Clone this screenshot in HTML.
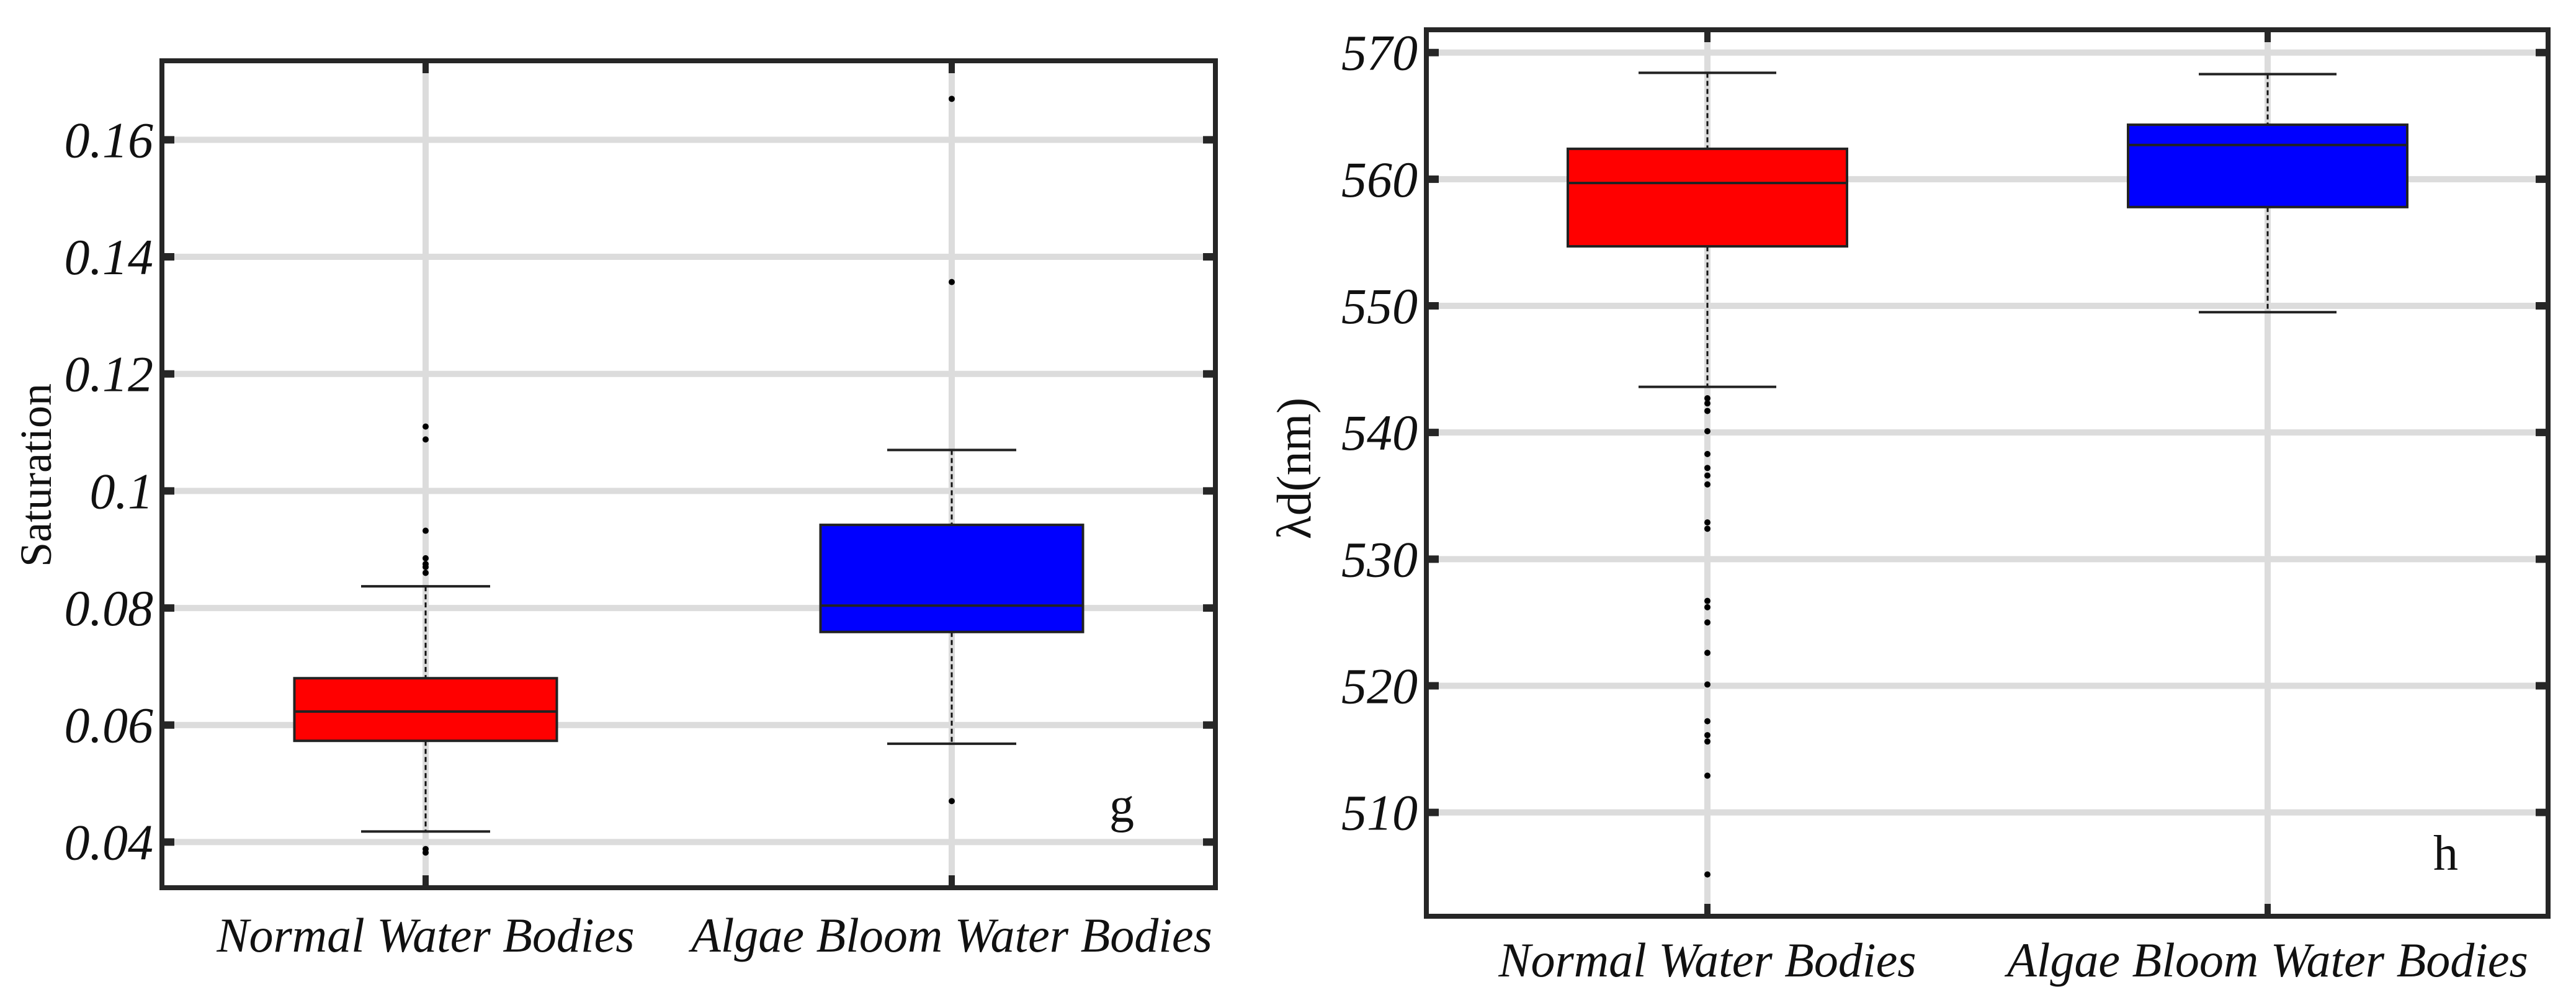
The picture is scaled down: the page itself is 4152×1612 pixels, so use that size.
<!DOCTYPE html>
<html><head><meta charset="utf-8"><style>
html,body{margin:0;padding:0;background:#fff;}
svg{display:block;}
text{font-family:"Liberation Serif","DejaVu Serif",serif;fill:#111;}
</style></head><body>
<svg id="chart" width="4152" height="1612" viewBox="0 0 4152 1612" xmlns="http://www.w3.org/2000/svg"></svg>
<script>
const categories = ["Normal Water Bodies", "Algae Bloom Water Bodies"];
// panel g: Saturation
const satTicks = [0.04, 0.06, 0.08, 0.1, 0.12, 0.14, 0.16];
const satTickLabels = ["0.04", "0.06", "0.08", "0.1", "0.12", "0.14", "0.16"];
const satQ1 = [0.0573, 0.0759];
const satMedian = [0.0623, 0.0804];
const satQ3 = [0.0680, 0.0942];
const satLow = [0.0418, 0.0568];
const satHigh = [0.0837, 0.1070];
const satOutliers0 = [0.111, 0.1088, 0.0932, 0.0885, 0.0875, 0.087, 0.086, 0.0388, 0.0382];
const satOutliers1 = [0.167, 0.1357, 0.047];
// panel h: dominant wavelength
const lamTicks = [510, 520, 530, 540, 550, 560, 570];
const lamTickLabels = ["510", "520", "530", "540", "550", "560", "570"];
const lamQ1 = [554.7, 557.8];
const lamMedian = [559.7, 562.7];
const lamQ3 = [562.4, 564.3];
const lamLow = [543.6, 549.5];
const lamHigh = [568.4, 568.3];
const lamOutliers0 = [542.7, 542.3, 541.7, 540.1, 538.3, 537.2, 536.6, 535.9, 532.9, 532.4, 526.7, 526.2, 525, 522.6, 520.1, 517.2, 516.1, 515.6, 512.9, 505.1];
const lamOutliers1 = [];

const NS = "http://www.w3.org/2000/svg";
const FONT = '"Liberation Serif", "DejaVu Serif", serif';
const svg = document.getElementById('chart');
function mk(tag, attrs, parent) {
  const e = document.createElementNS(NS, tag);
  for (const k in attrs) e.setAttribute(k, attrs[k]);
  if (tag === 'text') e.setAttribute('font-family', FONT);
  (parent || svg).appendChild(e);
  return e;
}

function panel(cfg) {
  const g = mk('g', {});
  
  
  const L = cfg.L, R = cfg.R, T = cfg.T, B = cfg.B;
  const y = v => B - (v - cfg.ymin) / (cfg.ymax - cfg.ymin) * (B - T);
  const xs = cfg.cx;
  cfg.ticks.forEach((t, i) => {
    const gl = mk('line', {x1: L, x2: R, y1: y(t), y2: y(t), stroke: '#dcdcdc', 'stroke-width': 10}, g);
    
    
  });
  xs.forEach(cx => {
    const gl = mk('line', {x1: cx, x2: cx, y1: T, y2: B, stroke: '#dcdcdc', 'stroke-width': 10}, g);
    
    
  });
  categories.forEach((c, i) => {
    const cx = xs[i], hw = cfg.boxW / 2, cw = cfg.capW / 2;
    const bg = mk('g', {}, g);
    
    
    mk('line', {x1: cx, x2: cx, y1: y(cfg.high[i]), y2: y(cfg.q3[i]), stroke: '#111', 'stroke-width': 3, 'stroke-dasharray': '8 5'}, bg);
    mk('line', {x1: cx, x2: cx, y1: y(cfg.q1[i]), y2: y(cfg.low[i]), stroke: '#111', 'stroke-width': 3, 'stroke-dasharray': '8 5'}, bg);
    mk('line', {x1: cx - cw, x2: cx + cw, y1: y(cfg.high[i]), y2: y(cfg.high[i]), stroke: '#222', 'stroke-width': 4}, bg);
    mk('line', {x1: cx - cw, x2: cx + cw, y1: y(cfg.low[i]), y2: y(cfg.low[i]), stroke: '#222', 'stroke-width': 4}, bg);
    mk('rect', {x: cx - hw, y: y(cfg.q3[i]), width: cfg.boxW, height: y(cfg.q1[i]) - y(cfg.q3[i]), fill: i === 0 ? '#ff0000' : '#0000ff', stroke: '#222', 'stroke-width': 4}, bg);
    mk('line', {x1: cx - hw, x2: cx + hw, y1: y(cfg.med[i]), y2: y(cfg.med[i]), stroke: '#222', 'stroke-width': 4}, bg);
    cfg.outliers[i].forEach(v => {
      const d = mk('circle', {cx: cx, cy: y(v), r: 5, fill: '#000'}, bg);
      
      
    });
  });
  const fr = mk('rect', {x: L, y: T, width: R - L, height: B - T, fill: 'none', stroke: '#262626', 'stroke-width': 8}, g);
  
  
  cfg.ticks.forEach((t, i) => {
    mk('line', {x1: L, x2: L + 20, y1: y(t), y2: y(t), stroke: '#262626', 'stroke-width': 12}, g);
    mk('line', {x1: R - 20, x2: R, y1: y(t), y2: y(t), stroke: '#262626', 'stroke-width': 12}, g);
    const tl = mk('text', {x: L - 14, y: y(t) + 28, 'text-anchor': 'end', 'font-size': 82, 'font-style': 'italic'}, g);
    tl.textContent = cfg.tickLabels[i];
    
    
  });
  categories.forEach((c, i) => {
    mk('line', {x1: xs[i], x2: xs[i], y1: T, y2: T + 20, stroke: '#262626', 'stroke-width': 10}, g);
    mk('line', {x1: xs[i], x2: xs[i], y1: B - 20, y2: B, stroke: '#262626', 'stroke-width': 10}, g);
    const xl = mk('text', {x: xs[i], y: cfg.xlabY, 'text-anchor': 'middle', 'font-size': 78, 'font-style': 'italic'}, g);
    xl.textContent = c;
    
    
  });
  const yl = mk('text', {x: 0, y: 0, 'text-anchor': 'middle', 'font-size': cfg.ylabSize, transform: `translate(${cfg.ylabX},${cfg.ylabY}) rotate(-90)`}, g);
  yl.textContent = cfg.ylabel;
  
  
  const pl = mk('text', {x: cfg.letterX, y: cfg.letterY, 'font-size': 80}, g);
  pl.textContent = cfg.letter;
  
  
}

panel({name: 'saturation-panel', L: 261, R: 1959, T: 98, B: 1431, ymin: 0.0322, ymax: 0.1735,
  cx: [686, 1534], boxW: 423, capW: 208,
  ticks: satTicks, tickLabels: satTickLabels, q1: satQ1, med: satMedian, q3: satQ3, low: satLow, high: satHigh,
  outliers: [satOutliers0, satOutliers1], xlabY: 1534, ylabX: 82, ylabY: 766, ylabSize: 72, ylabel: 'Saturation', letter: 'g', letterX: 1788, letterY: 1325});

panel({name: 'wavelength-panel', L: 2299, R: 4107, T: 48, B: 1477, ymin: 501.8, ymax: 571.8,
  cx: [2752, 3655], boxW: 450, capW: 222,
  ticks: lamTicks, tickLabels: lamTickLabels, q1: lamQ1, med: lamMedian, q3: lamQ3, low: lamLow, high: lamHigh,
  outliers: [lamOutliers0, lamOutliers1], xlabY: 1574, ylabX: 2112, ylabY: 755, ylabSize: 78, ylabel: 'λd(nm)', letter: 'h', letterX: 3922, letterY: 1402});
</script>
</body></html>
